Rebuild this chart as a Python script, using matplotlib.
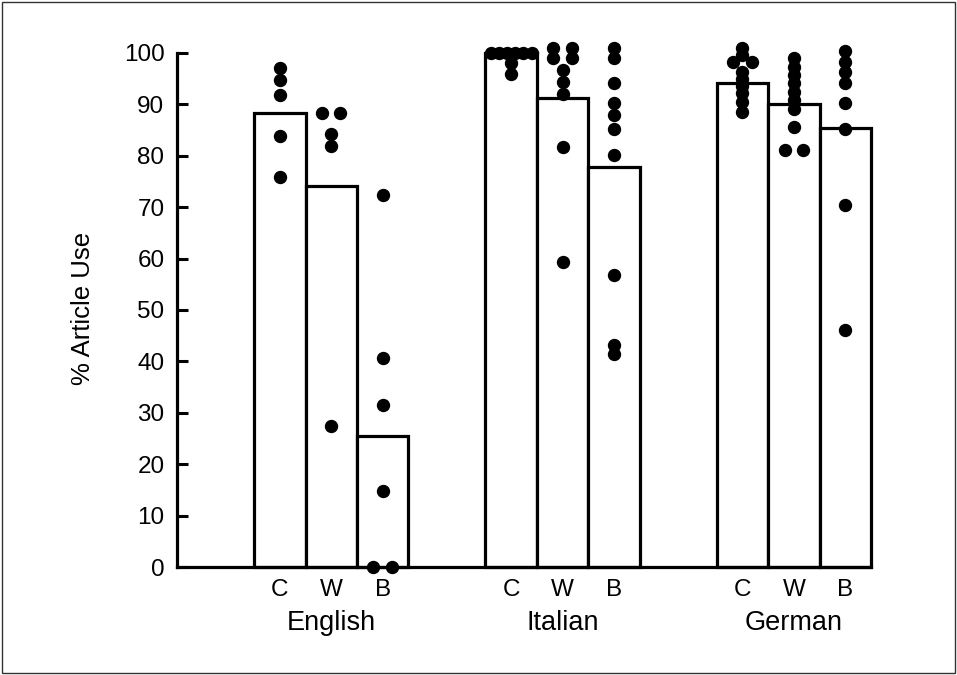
import matplotlib
matplotlib.use("Agg")
import matplotlib.pyplot as plt
from matplotlib.patches import Rectangle
import numpy as np

plt.rcParams['font.family'] = ['Liberation Sans', 'DejaVu Sans']

languages = ["English", "Italian", "German"]
conditions = ["C", "W", "B"]

# bar heights (mean % article use) per language, per condition C, W, B
english_means = [88.3, 74.1, 25.5]
italian_means = [100.0, 91.2, 77.8]
german_means = [94.2, 90.1, 85.4]

# individual subject points
english_C = [97.0, 94.7, 91.8, 83.9, 75.8]
english_W = [88.3, 88.3, 84.2, 81.9, 27.4]
english_B = [72.4, 40.7, 31.5, 14.8, 0.0, 0.0]

italian_C = [100.0, 100.0, 100.0, 100.0, 100.0, 100.0, 98.1, 96.0]
italian_W = [100.9, 100.9, 99.0, 99.0, 96.7, 94.4, 92.0, 81.8, 59.4]
italian_B = [100.9, 99.0, 94.2, 90.2, 87.9, 85.3, 80.2, 56.8, 43.2, 41.4]

german_C = [100.9, 99.6, 98.3, 98.3, 96.4, 94.9, 93.6, 92.3, 90.5, 88.6]
german_W = [99.0, 97.3, 95.7, 94.1, 92.4, 90.8, 89.2, 85.7, 81.1, 81.1]
german_B = [100.4, 98.3, 96.4, 94.1, 90.3, 85.2, 70.4, 46.1]

means = [english_means, italian_means, german_means]
points = [[english_C, english_W, english_B],
          [italian_C, italian_W, italian_B],
          [german_C, german_W, german_B]]

FS = 17.5

fig = plt.figure(figsize=(9.57, 6.75), dpi=100)
ax = fig.add_axes([177/957, (675-567)/675, (871-177)/957, (567-53)/675])

lw = 2.3
tick_pos = []
tick_lab = []
for g in range(3):
    for i in range(3):
        xc = 2 + g * 4.5 + i
        ax.bar(xc, means[g][i], width=1.0, facecolor='white', edgecolor='black',
               linewidth=lw, zorder=2, clip_on=False)
        tick_pos.append(xc)
        tick_lab.append(conditions[i])
        vals = points[g][i]
        # spread duplicate values horizontally
        uniq = {}
        for v in vals:
            uniq[v] = uniq.get(v, 0) + 1
        xs, ys = [], []
        for v, n in uniq.items():
            if n == 1:
                offs = [0.0]
            else:
                sp = min(0.36, 0.8 / (n - 1))
                offs = [(k - (n - 1) / 2) * sp for k in range(n)]
            for o in offs:
                xs.append(xc + o)
                ys.append(v)
        ax.plot(xs, ys, 'o', color='black', markersize=8.6, zorder=3, clip_on=False)

ax.set_xlim(0, 13.5)
ax.set_ylim(0, 100)
ax.set_yticks(np.arange(0, 101, 10))
ax.set_xticks(tick_pos)
ax.set_xticklabels(tick_lab)
ax.tick_params(axis='y', direction='in', length=8, width=2.2, labelsize=FS, pad=9)
ax.tick_params(axis='x', length=0, labelsize=FS, pad=9)
for s in ['top', 'right']:
    ax.spines[s].set_visible(False)
for s in ['left', 'bottom']:
    ax.spines[s].set_linewidth(lw)
    ax.spines[s].set_zorder(4)

for g, name in enumerate(languages):
    ax.annotate(name, xy=(3 + g * 4.5, 0), xycoords=('data', 'axes fraction'),
                xytext=(0, -56), textcoords='offset pixels', ha='center', va='center',
                fontsize=19.5)

ax.set_ylabel("% Article Use", fontsize=18.5)
ax.yaxis.set_label_coords((95 - 177) / 694, 0.504)

fig.patches.append(Rectangle((2/957, 2/675), 953/957, 671/675, transform=fig.transFigure,
                             fill=False, edgecolor='#333333', linewidth=1.0))

fig.savefig("out.png", dpi=100)
